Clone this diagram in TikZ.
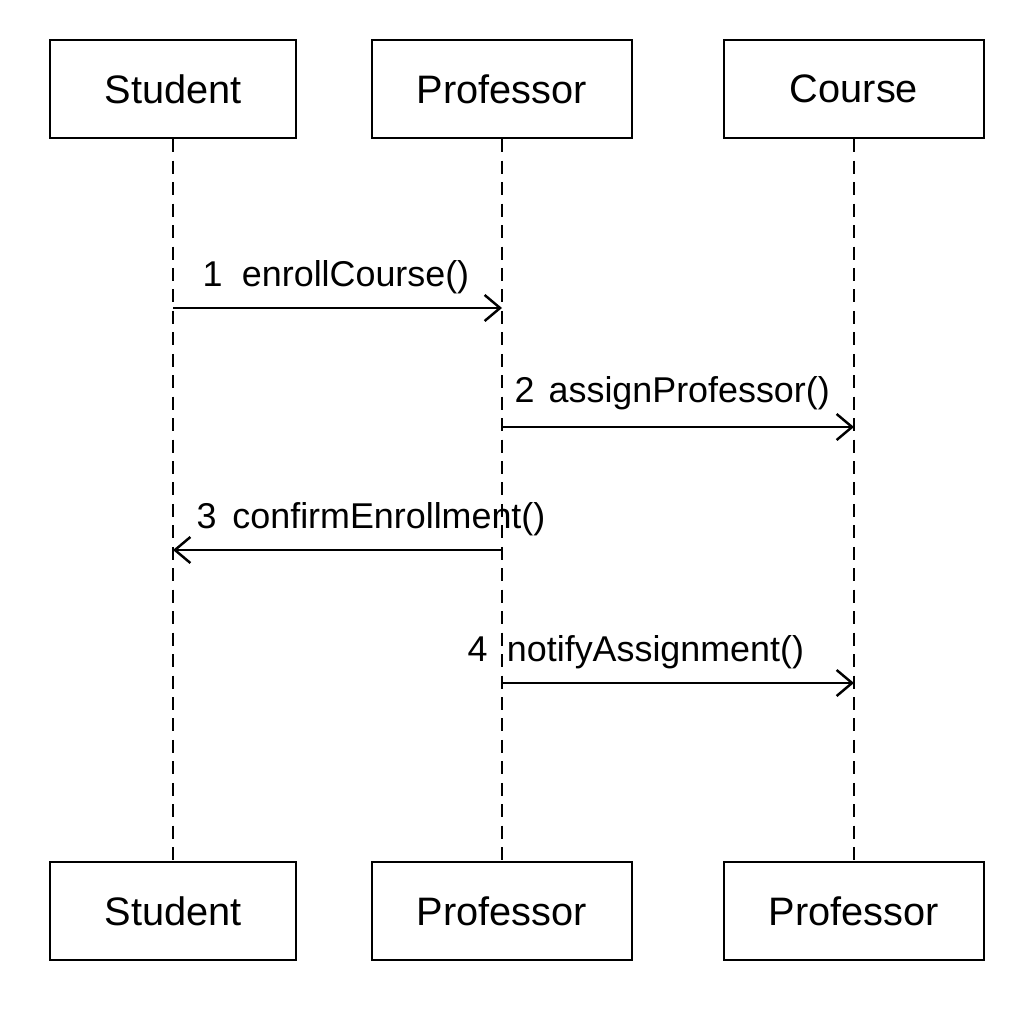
\documentclass[tikz,border=0pt]{standalone}
\usepackage{fontspec}
\setmainfont{Liberation Sans}
\usetikzlibrary{arrows.meta, positioning, calc}
\tikzset{
  objbox/.style={rectangle, draw=black, fill=white, line width=0.7pt,
    minimum width=2.46cm, minimum height=0.98cm, inner sep=0pt,
    font=\fontsize{11.3}{13}\selectfont},
  wideobj/.style={objbox, minimum width=2.6cm},
  lifeline/.style={line width=0.65pt, dash pattern=on 3.7pt off 2.4pt},
  msg/.style={-{Straight Barb[length=4.4pt, width=7.4pt, line width=0.7pt]}, line width=0.7pt},
  msglabel/.style={anchor=base west, inner sep=0pt, font=\fontsize{10.2}{12}\selectfont}
}
\begin{document}
\begin{tikzpicture}[x=0.01cm, y=-0.01cm]
  \useasboundingbox (0,0) rectangle (1024,1024);
  % objects on top
  \node[objbox]  (stu)  at (173,89)  {Student};
  \node[wideobj] (prof) at (502,89)  {Professor};
  \node[wideobj] (crs)  at (854,89)  {Course};
  % objects at the bottom
  \node[objbox]  (stub)  at (173,911) {Student};
  \node[wideobj] (profb) at (502,911) {Professor};
  \node[wideobj] (crsb)  at (854,911) {Professor};
  % lifelines
  \draw[lifeline] (stu.south)  -- (stub.north);
  \draw[lifeline] (prof.south) -- (profb.north);
  \draw[lifeline] (crs.south)  -- (crsb.north);
  % message ends
  \coordinate (m1a) at (stu |- 0,308);
  \coordinate (m1b) at (prof |- 0,308);
  \coordinate (m2a) at (prof |- 0,427);
  \coordinate (m2b) at (crs |- 0,427);
  \coordinate (m3a) at (prof |- 0,550);
  \coordinate (m3b) at (stu |- 0,550);
  \coordinate (m4a) at (prof |- 0,683);
  \coordinate (m4b) at (crs |- 0,683);
  % messages
  \draw[msg] (m1a) -- (m1b);
  \draw[msg] (m2a) -- (m2b);
  \draw[msg] (m3a) -- (m3b);
  \draw[msg] (m4a) -- (m4b);
  \node[msglabel] (l1) at (202,286) {1\hspace{5.5pt}enrollCourse()};
  \node[msglabel] (l2) at (514,402) {2\hspace{4pt}assignProfessor()};
  \node[msglabel] (l3) at (196,528) {3\hspace{4.5pt}confirmEnrollment()};
  \node[msglabel] (l4) at (467,661) {4\hspace{5.5pt}notifyAssignment()};
\end{tikzpicture}
\end{document}
